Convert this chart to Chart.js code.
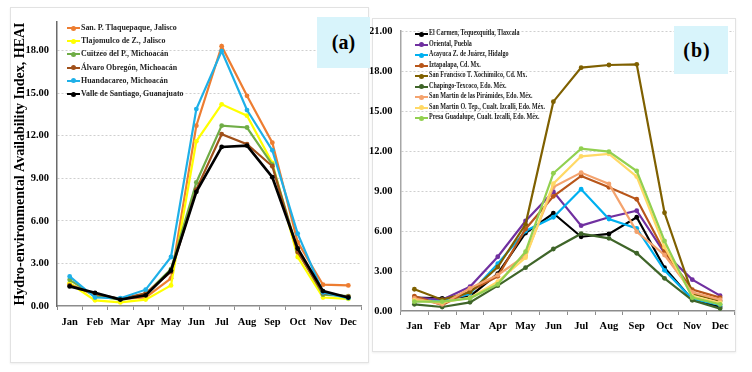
<!DOCTYPE html>
<html>
<head>
<meta charset="utf-8">
<script src="https://cdn.jsdelivr.net/npm/chart.js@4"></script>
<style>
  html, body { margin: 0; padding: 0; background: #fff; }
  #wrap { position: relative; width: 752px; height: 372px; overflow: hidden; background: #fff; }
  .panel { position: absolute; border: 1px solid #e2e2e2; box-shadow: 0 1px 2px rgba(0,0,0,0.07); background: #fff; box-sizing: border-box; }
  canvas { position: absolute; }
  .legend { position: absolute; font-family: 'Liberation Serif', serif; font-weight: bold; color: #222; }
  .row { position: absolute; left: 0; height: 10px; white-space: nowrap; }
  .sample { position: absolute; left: 0; top: 4px; height: 2px; }
  .dot { position: absolute; top: -1.5px; width: 5px; height: 5px; border-radius: 50%; }
  .txt { position: absolute; top: -1px; display: inline-block; transform-origin: left center; line-height: 10px; }
  .tag { position: absolute; background: #d8f4fb; font-family: 'Liberation Serif', serif; font-weight: bold; color: #000; display: flex; align-items: center; justify-content: center; }
</style>
</head>
<body>
<div id="wrap">
  <div class="panel" style="left:10px;top:7px;width:359px;height:356px;"></div>
  <div class="panel" style="left:372px;top:18px;width:364px;height:334px;"></div>
  <canvas id="ca" width="368" height="372" style="left:0;top:0;width:368px;height:372px;"></canvas>
  <canvas id="cb" width="386" height="372" style="left:366px;top:0;width:386px;height:372px;"></canvas>
  <div id="legA" class="legend" style="left:67px;top:23px;"></div>
  <div id="legB" class="legend" style="left:415px;top:29px;"></div>
  <div class="tag" style="left:317px;top:17px;width:53px;height:51px;font-size:20px;">(a)</div>
  <div class="tag" style="left:674px;top:26px;width:54px;height:48px;font-size:20px;padding-right:8px;box-sizing:border-box;letter-spacing:1px;">(b)</div>
</div>
<script>
// ---------- shared categories ----------
const months = ['Jan','Feb','Mar','Apr','May','Jun','Jul','Aug','Sep','Oct','Nov','Dec'];

// ---------- panel (a) ----------
const namesA = [
  'San. P. Tlaquepaque, Jalisco',
  'Tlajomulco de Z., Jalisco',
  'Cuitzeo del P., Michoacán',
  'Álvaro Obregón, Michoacán',
  'Huandacareo, Michoacán',
  'Valle de Santiago, Guanajuato'
];
const colorsA = ['#ED7D31', '#FFFF00', '#70AD47', '#A0501A', '#1EB0E8', '#000000'];
const tlaquepaque = [1.55, 0.75, 0.50, 0.60, 1.95, 12.70, 18.30, 14.80, 11.50, 4.50, 1.50, 1.45];
const tlajomulco  = [1.60, 0.40, 0.25, 0.45, 1.45, 11.60, 14.20, 13.40, 10.07, 3.45, 0.60, 0.50];
const cuitzeo     = [1.84, 0.70, 0.45, 0.85, 2.60, 8.70, 12.70, 12.57, 9.95, 3.90, 0.80, 0.70];
const alvaro      = [1.45, 0.85, 0.50, 0.90, 2.40, 8.20, 12.10, 11.40, 9.84, 3.80, 0.90, 0.65];
const huandacareo = [2.08, 0.60, 0.55, 1.15, 3.45, 13.87, 17.95, 13.80, 10.96, 5.10, 0.95, 0.55];
const valle       = [1.38, 0.93, 0.45, 0.75, 2.50, 8.04, 11.20, 11.30, 9.07, 4.05, 1.05, 0.60];
const seriesA = [tlaquepaque, tlajomulco, cuitzeo, alvaro, huandacareo, valle];
const ticksA = [0, 3, 6, 9, 12, 15, 18];

// ---------- panel (b) ----------
const namesB = [
  'El Carmen, Tequexquitla, Tlaxcala',
  'Oriental, Puebla',
  'Acayuca Z. de Juárez, Hidalgo',
  'Iztapalapa, Cd. Mx.',
  'San Francisco T. Xochimilco, Cd. Mx.',
  'Chapingo-Texcoco, Edo. Méx.',
  'San Martin de las Pirámides, Edo. Méx.',
  'San Martin O. Tep., Cualt. Izcalli, Edo. Méx.',
  'Presa Guadalupe, Cualt. Izcalli, Edo. Méx.'
];
const colorsB = ['#000000', '#7030A0', '#00B0F0', '#B8561A', '#7F6000', '#3F6529', '#F4A36E', '#FFD966', '#92D050'];
const elCarmen   = [1.00, 0.95, 1.10, 2.80, 5.85, 7.33, 5.57, 5.78, 7.03, 3.25, 0.85, 0.30];
const oriental   = [1.00, 0.85, 1.82, 4.07, 6.75, 8.95, 6.40, 7.03, 7.52, 4.35, 2.35, 1.15];
const acayuca    = [0.85, 0.70, 1.30, 3.55, 6.00, 7.03, 9.13, 6.90, 6.20, 3.05, 0.90, 0.45];
const iztapalapa = [1.12, 0.45, 1.50, 2.60, 6.15, 8.60, 10.13, 9.28, 8.38, 4.45, 1.60, 1.00];
const xochimilco = [1.63, 0.85, 1.40, 3.30, 6.50, 15.70, 18.25, 18.45, 18.50, 7.37, 1.30, 0.75];
const chapingo   = [0.50, 0.30, 0.65, 1.90, 3.25, 4.65, 5.80, 5.45, 4.33, 2.45, 0.80, 0.18];
const piramides  = [0.95, 0.50, 1.70, 2.70, 4.15, 9.30, 10.38, 9.53, 5.95, 4.20, 1.40, 0.85];
const oTep       = [0.80, 0.65, 1.00, 2.20, 4.00, 9.55, 11.60, 11.78, 10.08, 4.80, 1.10, 0.60];
const guadalupe  = [0.70, 0.70, 0.95, 2.00, 4.45, 10.33, 12.18, 11.95, 10.50, 5.25, 1.00, 0.50];
const seriesB = [elCarmen, oriental, acayuca, iztapalapa, xochimilco, chapingo, piramides, oTep, guadalupe];
const ticksB = [0, 3, 6, 9, 12, 15, 18, 21];

const yTitleA = 'Hydro-environmental Availability Index, HEAI';

// ---------- helpers ----------
const tickFont = { family: "'Liberation Serif', serif", weight: 'bold', size: 10.5 };

function buildDatasets(series, names, colors, widths) {
  const n = series.length;
  return series.map((data, i) => ({
    label: names[i],
    data: data,
    borderColor: colors[i],
    backgroundColor: colors[i],
    pointBackgroundColor: colors[i],
    pointBorderColor: colors[i],
    pointBorderWidth: 0,
    pointRadius: 2.4,
    borderWidth: widths ? widths[i] : 2.2,
    tension: 0,
    fill: false,
    order: n - i
  }));
}

function makeChart(id, series, names, colors, cfg) {
  const keep = cfg.ticks;
  return new Chart(document.getElementById(id), {
    type: 'line',
    data: { labels: months, datasets: buildDatasets(series, names, colors, cfg.widths) },
    options: {
      responsive: false,
      animation: false,
      devicePixelRatio: 1,
      layout: { padding: cfg.padding },
      plugins: { legend: { display: false }, tooltip: { enabled: false } },
      scales: {
        x: {
          type: 'category',
          offset: true,
          grid: { display: true, offset: true, drawOnChartArea: false, drawTicks: true, tickLength: 4, color: '#8c8c8c', lineWidth: 1 },
          border: { display: true, color: '#8c8c8c', width: 1.5 },
          ticks: { color: '#000', font: tickFont, padding: cfg.xPad, maxRotation: 0, autoSkip: false },
          afterFit: s => { s.height = 40; }
        },
        y: {
          min: 0,
          max: cfg.max,
          ticks: { stepSize: 3, color: '#000', font: tickFont, padding: 8, callback: v => Number(v).toFixed(2) },
          afterBuildTicks: s => { s.ticks = keep.map(v => ({ value: v })); },
          grid: {
            drawTicks: false,
            lineWidth: 1,
            color: c => (c.tick && c.tick.value === 0) ? 'rgba(0,0,0,0)' : '#cfcfcf'
          },
          border: { display: true, color: cfg.yAxisColor, width: 1.5, dash: [2, 2] },
          title: cfg.title ? {
            display: true, text: cfg.title, color: '#000',
            font: { family: "'Liberation Serif', serif", weight: 'bold', size: 14 },
            padding: { top: 12, bottom: 0 }
          } : { display: false },
          afterFit: s => { s.width = cfg.yWidth; }
        }
      }
    }
  });
}

makeChart('ca', seriesA, namesA, colorsA, {
  padding: { left: 0, right: 7, top: 22, bottom: 26 },
  max: 20, ticks: ticksA, yWidth: 57, xPad: 6, yAxisColor: '#6b6b6b',
  title: yTitleA, widths: [2.2, 2.2, 2.2, 2.2, 2.2, 2.7]
});

makeChart('cb', seriesB, namesB, colorsB, {
  padding: { left: 0, right: 18, top: 31, bottom: 21 },
  max: 21, ticks: ticksB, yWidth: 34.5, xPad: 4.5, yAxisColor: '#a6a6a6',
  title: null, widths: null
});

// ---------- HTML legends ----------
function buildLegend(id, names, colors, step, sampleW, fontSize, scale) {
  const box = document.getElementById(id);
  names.forEach((name, i) => {
    const row = document.createElement('div');
    row.className = 'row';
    row.style.top = (i * step) + 'px';
    const s = document.createElement('div');
    s.className = 'sample';
    s.style.width = sampleW + 'px';
    s.style.background = colors[i];
    const d = document.createElement('div');
    d.className = 'dot';
    d.style.left = (sampleW / 2 - 2.5) + 'px';
    d.style.background = colors[i];
    s.appendChild(d);
    const t = document.createElement('span');
    t.className = 'txt';
    t.style.left = (sampleW + 1) + 'px';
    t.style.fontSize = fontSize + 'px';
    t.style.transform = 'scaleX(' + scale + ')';
    t.textContent = name;
    row.appendChild(s);
    row.appendChild(t);
    box.appendChild(row);
  });
}
buildLegend('legA', namesA, colorsA, 13.2, 13, 8.6, 0.92);
buildLegend('legB', namesB, colorsB, 10.5, 12.5, 7.6, 0.8);
</script>
</body>
</html>
